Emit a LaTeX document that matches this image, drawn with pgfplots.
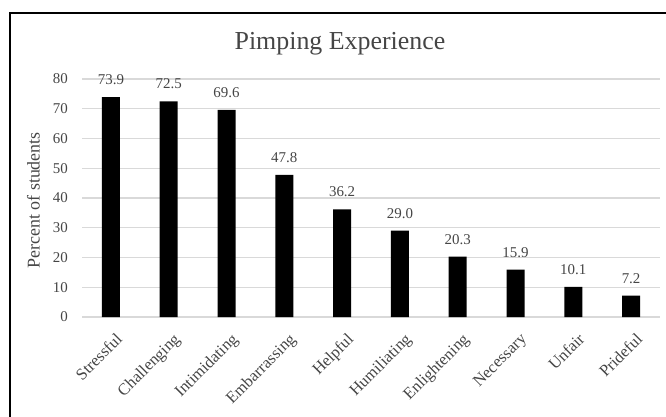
\documentclass[border=0pt]{standalone}
\usepackage{fontspec}
\setmainfont{Liberation Serif}
\usepackage{pgfplots}
\pgfplotsset{compat=1.18}
\definecolor{txt}{HTML}{454545}
\definecolor{grd}{HTML}{D9D9D9}
\begin{document}
\begin{tikzpicture}
\begin{axis}[
  at={(0,0)}, anchor=south west,
  scale only axis, width=578bp, height=238bp,
  xmin=-0.5, xmax=9.5, ymin=0, ymax=80,
  ybar, bar width=18bp,
  xtick={0,...,9},
  xticklabels={Stressful,Challenging,Intimidating,Embarrassing,Helpful,Humiliating,Enlightening,Necessary,Unfair,Prideful},
  ytick={0,10,...,80},
  ymajorgrids, grid style={grd, line width=1.1pt},
  axis line style={draw=none},
  major tick length=0pt,
  /pgf/number format/assume math mode=true,
  yticklabel style={font=\fontsize{15}{18}\selectfont, text=txt, inner sep=0pt, anchor=east, xshift=-14bp},
  xticklabel style={font=\fontsize{16.5}{19}\selectfont, text=txt, inner sep=0pt, xshift=4bp, yshift=-15bp, rotate=45, anchor=north east},
  ylabel={Percent of students},
  ylabel style={at={(axis description cs:-0.0839,0.49)}, anchor=center, font=\fontsize{18}{21}\selectfont, text=txt},
  nodes near coords,
  every node near coord/.append style={font=\fontsize{15}{18}\selectfont, text=txt, anchor=south, inner sep=0pt, yshift=12bp, /pgf/number format/fixed, /pgf/number format/fixed zerofill, /pgf/number format/precision=1},
]
\addplot[fill=black, draw=none] coordinates {(0,73.9) (1,72.5) (2,69.6) (3,47.8) (4,36.2) (5,29.0) (6,20.3) (7,15.9) (8,10.1) (9,7.2)};
\end{axis}
\node[anchor=base, text=txt, font=\fontsize{26}{30}\selectfont] at (258bp,267bp) {Pimping Experience};
\draw[line width=2.5bp, black] (-72bp,-100bp) -- (-72bp,304bp) -- (584bp,304bp);
\pgfresetboundingbox
\useasboundingbox (-82bp,-100bp) rectangle (584bp,317bp);
\end{tikzpicture}
\end{document}
